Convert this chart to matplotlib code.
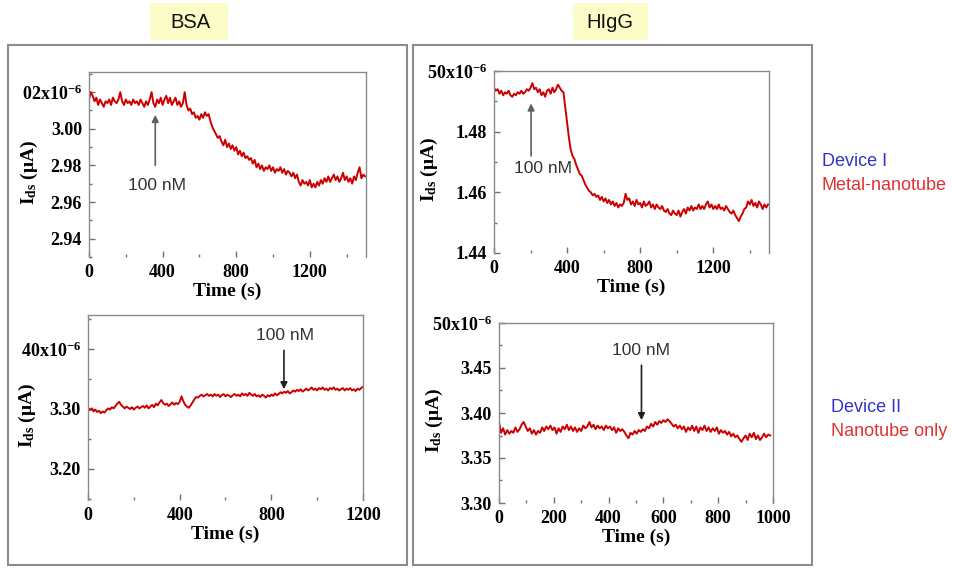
import numpy as np
import matplotlib
matplotlib.use("Agg")
import matplotlib.pyplot as plt
from matplotlib.patches import Rectangle
from matplotlib.ticker import AutoMinorLocator

plt.rcParams['mathtext.fontset'] = 'custom'
plt.rcParams['mathtext.rm'] = 'Liberation Serif'
plt.rcParams['mathtext.bf'] = 'Liberation Serif:bold'
plt.rcParams['mathtext.it'] = 'Liberation Serif:italic'

# ---- data (Ids in uA, sampled at fixed intervals in s) ----
bsa_dev1_dt = 10
bsa_dev1 = [3.016, 3.020, 3.018, 3.015, 3.017, 3.013, 3.016, 3.014, 3.012, 3.015,
            3.014, 3.016, 3.013, 3.017, 3.015, 3.014, 3.016, 3.020, 3.015, 3.013,
            3.016, 3.014, 3.015, 3.013, 3.016, 3.014, 3.015, 3.013, 3.016, 3.014,
            3.012, 3.015, 3.013, 3.016, 3.020, 3.014, 3.012, 3.016, 3.014, 3.017,
            3.013, 3.016, 3.018, 3.014, 3.017, 3.013, 3.015, 3.017, 3.013, 3.015,
            3.012, 3.014, 3.020, 3.013, 3.010, 3.011, 3.008, 3.009, 3.006, 3.007,
            3.005, 3.008, 3.006, 3.009, 3.007, 3.008, 3.004, 3.001, 2.999, 2.997,
            2.995, 2.996, 2.993, 2.991, 2.994, 2.990, 2.992, 2.989, 2.991, 2.988,
            2.990, 2.986, 2.988, 2.985, 2.987, 2.984, 2.985, 2.983, 2.984, 2.981,
            2.983, 2.979, 2.981, 2.978, 2.980, 2.977, 2.979, 2.978, 2.980, 2.977,
            2.979, 2.976, 2.978, 2.977, 2.979, 2.976, 2.978, 2.975, 2.977, 2.976,
            2.974, 2.976, 2.973, 2.975, 2.971, 2.969, 2.972, 2.970, 2.971, 2.969,
            2.972, 2.968, 2.970, 2.968, 2.971, 2.969, 2.972, 2.970, 2.973, 2.971,
            2.974, 2.971, 2.973, 2.975, 2.972, 2.974, 2.971, 2.973, 2.976, 2.972,
            2.974, 2.971, 2.973, 2.970, 2.974, 2.972, 2.976, 2.979, 2.973, 2.975,
            2.974]

higg_dev1_dt = 10
higg_dev1 = [1.4945, 1.4935, 1.4940, 1.4925, 1.4935, 1.4920, 1.4930, 1.4925, 1.4935, 1.4920,
             1.4915, 1.4925, 1.4920, 1.4930, 1.4925, 1.4935, 1.4925, 1.4930, 1.4940, 1.4935,
             1.4945, 1.4960, 1.4940, 1.4945, 1.4930, 1.4940, 1.4920, 1.4930, 1.4915, 1.4935,
             1.4940, 1.4925, 1.4945, 1.4930, 1.4940, 1.4955, 1.4945, 1.4935, 1.4930, 1.4880,
             1.4830, 1.4780, 1.4740, 1.4720, 1.4710, 1.4690, 1.4675, 1.4660, 1.4655, 1.4640,
             1.4625, 1.4615, 1.4605, 1.4600, 1.4590, 1.4595, 1.4585, 1.4590, 1.4575, 1.4585,
             1.4570, 1.4580, 1.4565, 1.4575, 1.4560, 1.4570, 1.4555, 1.4565, 1.4550, 1.4560,
             1.4555, 1.4565, 1.4595, 1.4575, 1.4580, 1.4560, 1.4570, 1.4555, 1.4575, 1.4560,
             1.4565, 1.4550, 1.4570, 1.4555, 1.4560, 1.4570, 1.4550, 1.4560, 1.4545, 1.4560,
             1.4550, 1.4545, 1.4555, 1.4540, 1.4535, 1.4545, 1.4530, 1.4525, 1.4540, 1.4530,
             1.4525, 1.4540, 1.4520, 1.4535, 1.4545, 1.4530, 1.4550, 1.4540, 1.4555, 1.4540,
             1.4550, 1.4545, 1.4560, 1.4545, 1.4555, 1.4545, 1.4560, 1.4570, 1.4550, 1.4560,
             1.4545, 1.4555, 1.4545, 1.4560, 1.4545, 1.4550, 1.4540, 1.4555, 1.4545, 1.4535,
             1.4530, 1.4540, 1.4525, 1.4515, 1.4505, 1.4520, 1.4530, 1.4545, 1.4550, 1.4570,
             1.4560, 1.4575, 1.4555, 1.4565, 1.4550, 1.4570, 1.4560, 1.4545, 1.4560, 1.4550,
             1.4560]

bsa_dev2_dt = 8
bsa_dev2 = [3.302, 3.298, 3.301, 3.296, 3.299, 3.295, 3.297, 3.293, 3.296, 3.294,
            3.298, 3.301, 3.299, 3.303, 3.301, 3.305, 3.309, 3.312, 3.307, 3.304,
            3.301, 3.304, 3.302, 3.300, 3.303, 3.299, 3.302, 3.304, 3.301, 3.303,
            3.305, 3.302, 3.306, 3.301, 3.304, 3.307, 3.303, 3.309, 3.306, 3.311,
            3.315, 3.310, 3.307, 3.309, 3.305, 3.308, 3.311, 3.307, 3.310, 3.308,
            3.312, 3.321, 3.313, 3.307, 3.304, 3.302, 3.306, 3.311, 3.316, 3.320,
            3.319, 3.322, 3.324, 3.321, 3.323, 3.325, 3.322, 3.324, 3.321, 3.325,
            3.322, 3.324, 3.320, 3.323, 3.325, 3.321, 3.324, 3.322, 3.320, 3.323,
            3.325, 3.322, 3.324, 3.321, 3.326, 3.323, 3.325, 3.322, 3.327, 3.324,
            3.322, 3.325, 3.321, 3.323, 3.320, 3.324, 3.322, 3.319, 3.323, 3.321,
            3.324, 3.322, 3.326, 3.323, 3.325, 3.328, 3.326, 3.329, 3.327, 3.330,
            3.326, 3.328, 3.331, 3.329, 3.332, 3.330, 3.333, 3.329, 3.331, 3.334,
            3.331, 3.333, 3.336, 3.332, 3.334, 3.331, 3.335, 3.333, 3.336, 3.332,
            3.334, 3.331, 3.335, 3.333, 3.336, 3.332, 3.334, 3.331, 3.333, 3.335,
            3.331, 3.334, 3.332, 3.335, 3.331, 3.333, 3.330, 3.334, 3.332, 3.335,
            3.337]

higg_dev2_dt = 7.5
higg_dev2 = [3.390, 3.378, 3.383, 3.376, 3.381, 3.377, 3.380, 3.378, 3.384, 3.379,
             3.382, 3.387, 3.390, 3.385, 3.380, 3.383, 3.377, 3.381, 3.376, 3.380,
             3.378, 3.384, 3.380, 3.385, 3.382, 3.386, 3.381, 3.384, 3.377, 3.383,
             3.379, 3.385, 3.382, 3.387, 3.381, 3.385, 3.380, 3.384, 3.379, 3.383,
             3.380, 3.386, 3.383, 3.385, 3.390, 3.384, 3.387, 3.382, 3.386, 3.383,
             3.385, 3.381, 3.386, 3.383, 3.385, 3.381, 3.384, 3.378, 3.383, 3.380,
             3.382, 3.379, 3.375, 3.372, 3.378, 3.376, 3.380, 3.377, 3.381, 3.379,
             3.382, 3.380, 3.385, 3.383, 3.388, 3.385, 3.390, 3.387, 3.391, 3.389,
             3.392, 3.390, 3.393, 3.391, 3.388, 3.385, 3.387, 3.383, 3.386, 3.382,
             3.385, 3.379, 3.384, 3.381, 3.386, 3.380, 3.385, 3.378, 3.384, 3.381,
             3.386, 3.380, 3.384, 3.379, 3.383, 3.380, 3.384, 3.377, 3.381, 3.378,
             3.380, 3.376, 3.379, 3.374, 3.377, 3.373, 3.375, 3.371, 3.368, 3.372,
             3.375, 3.370, 3.377, 3.373, 3.378, 3.371, 3.375, 3.370, 3.373, 3.377,
             3.373, 3.376, 3.375]

# ---- layout (pixel boxes measured on a 954x573 canvas) ----
W, H = 954, 573
fig = plt.figure(figsize=(W / 100, H / 100), dpi=100)


def fx(px):
    return px / W


def fy(py):
    return 1 - py / H


panels = [
    dict(y=bsa_dev1, dt=bsa_dev1_dt, box=(89, 72, 366, 257), xlim=(0, 1505),
         xticks=[0, 400, 800, 1200], ylim=(2.930, 3.031),
         yticks=[2.94, 2.96, 2.98, 3.00, 3.02],
         ylabels=['2.94', '2.96', '2.98', '3.00', r'02x10$^{\mathbf{-6}}$'],
         arrow=(360, 3.0076, 2.980), label=(370, 2.969), acol='#606060', ylx=-0.177),
    dict(y=higg_dev1, dt=higg_dev1_dt, box=(494, 71, 769, 253), xlim=(0, 1505),
         xticks=[0, 400, 800, 1200], ylim=(1.44, 1.50),
         yticks=[1.44, 1.46, 1.48, 1.50],
         ylabels=['1.44', '1.46', '1.48', r'50x10$^{\mathbf{-6}}$'],
         arrow=(203, 1.4893, 1.472), label=(268, 1.468), acol='#606060', ylx=-0.196),
    dict(y=bsa_dev2, dt=bsa_dev2_dt, box=(88, 315, 363, 500), xlim=(0, 1200),
         xticks=[0, 400, 800, 1200], ylim=(3.148, 3.457),
         yticks=[3.20, 3.30, 3.40],
         ylabels=['3.20', '3.30', r'40x10$^{\mathbf{-6}}$'],
         arrow=(855, 3.333, 3.398), label=(860, 3.423), acol='#202020', ylx=-0.182),
    dict(y=higg_dev2, dt=higg_dev2_dt, box=(499, 323, 773, 503), xlim=(0, 1000),
         xticks=[0, 200, 400, 600, 800, 1000], ylim=(3.30, 3.50),
         yticks=[3.30, 3.35, 3.40, 3.45, 3.50],
         ylabels=['3.30', '3.35', '3.40', '3.45', r'50x10$^{\mathbf{-6}}$'],
         arrow=(520, 3.392, 3.453), label=(520, 3.469), acol='#202020', ylx=-0.197),
]

serif = dict(family='Liberation Serif', weight='bold')

for p in panels:
    l, t, r, b = p['box']
    ax = fig.add_axes([fx(l), fy(b), fx(r - l), (b - t) / H])
    y = np.array(p['y'])
    x = np.arange(len(y)) * p['dt']
    ax.plot(x, y, color='#cc0000', lw=1.4)
    ax.set_xlim(*p['xlim'])
    ax.set_ylim(*p['ylim'])
    ax.set_xticks(p['xticks'])
    ax.set_yticks(p['yticks'])
    ax.set_yticklabels(p['ylabels'])
    ax.xaxis.set_minor_locator(AutoMinorLocator(2))
    ax.yaxis.set_minor_locator(AutoMinorLocator(2))
    ax.tick_params(which='both', direction='in', colors='#707070', labelcolor='black',
                   labelsize=13, pad=5)
    ax.tick_params(which='major', length=4, width=1)
    ax.tick_params(which='minor', length=2, width=1)
    for lab in ax.get_xticklabels() + ax.get_yticklabels():
        lab.set_fontfamily('Liberation Serif')
        lab.set_fontweight('bold')
    for side in ['left', 'top', 'right']:
        ax.spines[side].set_color('#8a8a8a')
        ax.spines[side].set_linewidth(1.0)
    ax.spines['bottom'].set_visible(False)
    ax.set_xlabel('Time (s)', fontsize=14, labelpad=1, **serif)
    ax.set_ylabel(r'I$_{\mathbf{ds}}$ (μA)', fontsize=14, **serif)
    ax.yaxis.set_label_coords(p['ylx'], 0.46)

    at, head, tail = p['arrow']
    ax.annotate('', xy=(at, head), xytext=(at, tail),
                arrowprops=dict(arrowstyle='-|>', color=p['acol'], lw=1.2,
                                mutation_scale=10, shrinkA=0, shrinkB=0))
    ax.text(p['label'][0], p['label'][1], '100 nM', ha='center', va='center',
            fontsize=12.5, family='Liberation Sans', color='#333333')

# outer frames
for x0, x1 in [(8, 407), (413, 812)]:
    fig.patches.append(Rectangle((fx(x0), fy(565)), fx(x1 - x0), (565 - 45) / H,
                                 transform=fig.transFigure, fill=False,
                                 edgecolor='#8c8c8c', lw=1.5))

# headers
for x0, x1, cx, txt in [(150, 228, 190, 'BSA'), (573, 648, 610, 'HIgG')]:
    fig.patches.append(Rectangle((fx(x0), fy(40)), fx(x1 - x0), 37 / H,
                                 transform=fig.transFigure, facecolor='#fcfcc8',
                                 edgecolor='none'))
    fig.text(fx(cx), fy(22), txt, ha='center', va='center', fontsize=14.5,
             family='Liberation Sans', color='#111111')

# device captions
fig.text(fx(822), fy(162), 'Device I', ha='left', va='center', fontsize=13,
         family='Liberation Sans', color='#3232c8')
fig.text(fx(822), fy(185), 'Metal-nanotube', ha='left', va='center', fontsize=13,
         family='Liberation Sans', color='#e03232')
fig.text(fx(831), fy(408), 'Device II', ha='left', va='center', fontsize=13,
         family='Liberation Sans', color='#3232c8')
fig.text(fx(831), fy(431), 'Nanotube only', ha='left', va='center', fontsize=13,
         family='Liberation Sans', color='#e03232')

fig.savefig('out.png', dpi=100)
